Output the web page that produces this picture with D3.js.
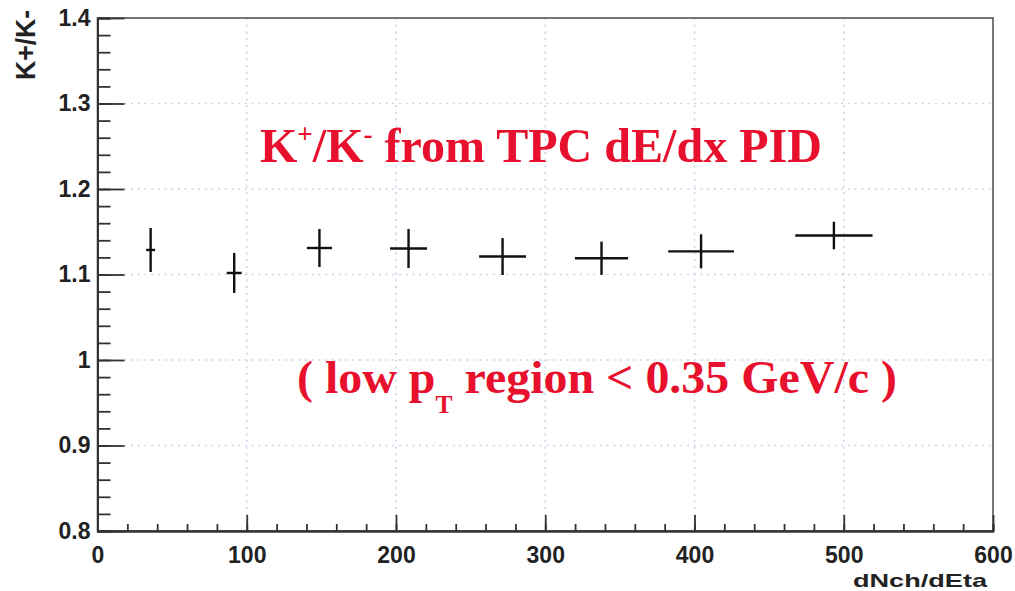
<!DOCTYPE html>
<meta charset="utf-8">
<style>
body { margin: 0; background: #fff; }
.grid line { stroke: #c9d4e6; stroke-width: 1.6; stroke-dasharray: 2,4.7; }
.axis path, .axis line { stroke: #333; stroke-width: 1.8; }
.axis text { font-family: "Liberation Sans", Arial, sans-serif; font-weight: bold; font-size: 23px; fill: #222; }
.bar { stroke: #111; stroke-width: 2.4; }
.note { font-family: "Liberation Serif", "Times New Roman", serif; font-weight: bold; fill: #e8112d; }
</style>
<body>
<script src="https://d3js.org/d3.v7.min.js"></script>
<script>

// data (dNch/dEta, K+/K- ratio)
var nch    = [35.6, 91.6, 148.7, 208.4, 271.4, 337.7, 404.4, 493.4];
var nchErr = [3, 5, 8.4, 12.4, 15.7, 17.8, 22, 25.9];
var ratio  = [1.1287, 1.1018, 1.131, 1.1304, 1.121, 1.119, 1.1271, 1.1456];
var ratioErr = [0.0257, 0.0234, 0.0222, 0.0228, 0.0216, 0.0195, 0.0199, 0.0161];

var xTicks = [0, 100, 200, 300, 400, 500, 600];
var yTicks = [0.8, 0.9, 1.0, 1.1, 1.2, 1.3, 1.4];
var yTickLabels = ["0.8", "0.9", "1", "1.1", "1.2", "1.3", "1.4"];

// set the dimensions and margins of the graph
var W = 1015, H = 591;
var margin = {top: 18, right: 22, bottom: 60, left: 97.5},
    width = W - margin.left - margin.right,
    height = H - margin.top - margin.bottom;

var x = d3.scaleLinear().domain([0, 600]).range([0, width]);
var y = d3.scaleLinear().domain([0.8, 1.4]).range([height, 0]);

var svg = d3.select("body").append("svg")
    .attr("width", W)
    .attr("height", H)
  .append("g")
    .attr("transform", "translate(" + margin.left + "," + margin.top + ")");

// dotted grid at the major ticks
var grid = svg.append("g").attr("class", "grid");
grid.selectAll(".gx")
    .data(xTicks.slice(1, -1))
  .enter().append("line")
    .attr("x1", d => x(d)).attr("x2", d => x(d))
    .attr("y1", 0).attr("y2", height);
grid.selectAll(".gy")
    .data(yTicks.slice(1, -1))
  .enter().append("line")
    .attr("x1", 0).attr("x2", width)
    .attr("y1", d => y(d)).attr("y2", d => y(d));

// frame
svg.append("rect")
    .attr("width", width).attr("height", height)
    .attr("fill", "none").attr("stroke", "#555").attr("stroke-width", 1.6);

// minor ticks
svg.append("g")
    .attr("class", "axis")
    .attr("transform", "translate(0," + height + ")")
    .call(d3.axisBottom(x).tickValues(d3.range(0, 601, 20)).tickSize(-7).tickFormat(""));
svg.append("g")
    .attr("class", "axis")
    .call(d3.axisLeft(y).tickValues(d3.range(0.8, 1.401, 0.02)).tickSize(-13).tickFormat(""));

// major ticks with labels
svg.append("g")
    .attr("class", "axis")
    .attr("transform", "translate(0," + height + ")")
    .call(d3.axisBottom(x).tickValues(xTicks).tickSize(-16).tickPadding(16).tickSizeOuter(0));
svg.append("g")
    .attr("class", "axis")
    .call(d3.axisLeft(y).tickValues(yTicks).tickSize(-27).tickPadding(7).tickSizeOuter(0)
        .tickFormat((d, i) => yTickLabels[i]));

// axis titles
svg.append("text")
    .attr("x", 987 - margin.left).attr("y", 587 - margin.top)
    .attr("text-anchor", "end")
    .attr("textLength", 134).attr("lengthAdjust", "spacingAndGlyphs")
    .style("font-family", "Liberation Sans, Arial, sans-serif")
    .style("font-weight", "bold").style("font-size", "19px").style("fill", "#222")
    .text("dNch/dEta");

svg.append("text")
    .attr("transform", "translate(" + (35 - margin.left) + "," + (10 - margin.top) + ") rotate(-90)")
    .attr("text-anchor", "end")
    .attr("textLength", 70).attr("lengthAdjust", "spacingAndGlyphs")
    .style("font-family", "Liberation Sans, Arial, sans-serif")
    .style("font-weight", "bold").style("font-size", "28px").style("fill", "#222")
    .text("K+/K-");

// error bars
var pts = nch.map((d, i) => ({x: d, ex: nchErr[i], y: ratio[i], ey: ratioErr[i]}));
var bars = svg.append("g");
bars.selectAll(".h")
    .data(pts)
  .enter().append("line")
    .attr("class", "bar")
    .attr("x1", d => x(d.x - d.ex)).attr("x2", d => x(d.x + d.ex))
    .attr("y1", d => y(d.y)).attr("y2", d => y(d.y));
bars.selectAll(".v")
    .data(pts)
  .enter().append("line")
    .attr("class", "bar")
    .attr("x1", d => x(d.x)).attr("x2", d => x(d.x))
    .attr("y1", d => y(d.y - d.ey)).attr("y2", d => y(d.y + d.ey));

// red annotations
var t1 = svg.append("text")
    .attr("class", "note")
    .attr("x", 260 - margin.left).attr("y", 162 - margin.top)
    .attr("textLength", 562).attr("lengthAdjust", "spacingAndGlyphs")
    .style("font-size", "48px");
t1.append("tspan").text("K");
t1.append("tspan").attr("dy", -19).style("font-size", "27px").text("+");
t1.append("tspan").attr("dy", 19).text("/K");
t1.append("tspan").attr("dy", -19).style("font-size", "27px").text("-");
t1.append("tspan").attr("dy", 19).text(" from TPC dE/dx PID");

var t2 = svg.append("text")
    .attr("class", "note")
    .attr("x", 297 - margin.left).attr("y", 393 - margin.top)
    .attr("textLength", 600).attr("lengthAdjust", "spacingAndGlyphs")
    .style("font-size", "47px");
t2.append("tspan").text("( low p");
t2.append("tspan").attr("dy", 20).style("font-size", "25px").text("T");
t2.append("tspan").attr("dy", -20).text(" region < 0.35 GeV/c )");

</script>
</body>
